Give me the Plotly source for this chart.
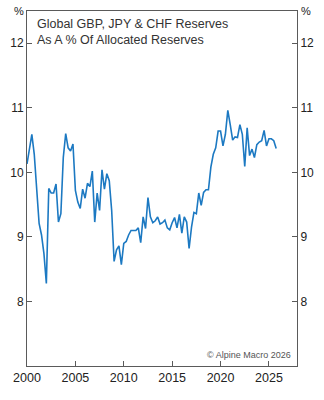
import plotly.graph_objects as go

start_year = 2000.0
step = 0.25
values = [
    10.13, 10.35, 10.59, 10.28, 9.77, 9.21, 9.03, 8.74, 8.28, 9.75,
    9.68, 9.68, 9.82, 9.23, 9.36, 10.23, 10.60, 10.38, 10.33, 10.44,
    9.72, 9.54, 9.44, 9.74, 9.60, 9.83, 9.78, 10.02, 9.23, 9.68,
    9.41, 10.04, 9.74, 9.98, 9.87, 9.41, 8.62, 8.80, 8.86, 8.57,
    8.90, 8.93, 9.03, 9.10, 9.10, 9.10, 9.14, 8.91, 9.31, 9.13,
    9.61, 9.31, 9.22, 9.25, 9.31, 9.20, 9.22, 9.26, 9.14, 9.11,
    9.22, 9.30, 9.14, 9.35, 9.06, 9.31, 9.23, 8.82, 9.15, 9.38,
    9.36, 9.68, 9.49, 9.69, 9.73, 9.73, 10.08, 10.28, 10.38, 10.64,
    10.64, 10.41, 10.59, 10.96, 10.74, 10.50, 10.55, 10.54, 10.74, 10.59,
    10.09, 10.69, 10.26, 10.36, 10.23, 10.43, 10.47, 10.49, 10.65, 10.41,
    10.52, 10.52, 10.49, 10.37,
]
dates = [start_year + i * step for i in range(len(values))]

x_ticks = [2000, 2005, 2010, 2015, 2020, 2025]
y_ticks = [8, 9, 10, 11, 12]
title_text = "Global GBP, JPY & CHF Reserves<br>As A % Of Allocated Reserves"
source_text = "© Alpine Macro 2026"

FONT = "Liberation Sans, Arial, sans-serif"
AXIS = "#5a5a5a"
TXT = "#222222"

fig = go.Figure()
fig.add_trace(go.Scatter(x=dates, y=values, mode="lines",
                         line=dict(color="#1c79c2", width=1.6),
                         hoverinfo="skip", showlegend=False))
# invisible trace for right axis
fig.add_trace(go.Scatter(x=[dates[0]], y=[values[0]], yaxis="y2", mode="lines",
                         line=dict(width=0), showlegend=False, hoverinfo="skip"))

yr = [7.0, 12.5]
fig.update_layout(
    width=324, height=400,
    margin=dict(l=25, r=22, t=10, b=34),
    paper_bgcolor="white", plot_bgcolor="white",
    font=dict(family=FONT, color=TXT, size=12),
    xaxis=dict(range=[2000, 2027.9], tickvals=x_ticks, ticktext=[str(t) for t in x_ticks],
               ticks="inside", ticklen=5, tickcolor=AXIS, tickwidth=1,
               showline=True, linecolor=AXIS, linewidth=1, mirror=True,
               showgrid=False, zeroline=False, tickfont=dict(size=12.5, color=TXT)),
    yaxis=dict(range=yr, tickvals=y_ticks, ticks="inside", ticklen=5, tickcolor=AXIS,
               showline=True, linecolor=AXIS, linewidth=1,
               showgrid=False, zeroline=False, tickfont=dict(size=12, color=TXT)),
    yaxis2=dict(range=yr, tickvals=y_ticks, ticks="inside", ticklen=5, tickcolor=AXIS,
                showline=True, linecolor=AXIS, linewidth=1, overlaying="y", side="right",
                showgrid=False, zeroline=False, tickfont=dict(size=12, color=TXT)),
    annotations=[
        dict(text=title_text, xref="paper", yref="paper", x=0.03, y=0.99,
             xanchor="left", yanchor="top", showarrow=False, align="left",
             font=dict(size=12.5, color="#333333")),
        dict(text=source_text, xref="paper", yref="paper", x=0.985, y=0.012,
             xanchor="right", yanchor="bottom", showarrow=False,
             font=dict(size=9, color="#555555")),
        dict(text="%", xref="paper", yref="paper", x=-0.03, y=1.0,
             xanchor="center", yanchor="middle", showarrow=False,
             font=dict(size=11, color=TXT)),
        dict(text="%", xref="paper", yref="paper", x=1.032, y=1.0,
             xanchor="center", yanchor="middle", showarrow=False,
             font=dict(size=11, color=TXT)),
    ],
)

fig.write_html("out.html")
